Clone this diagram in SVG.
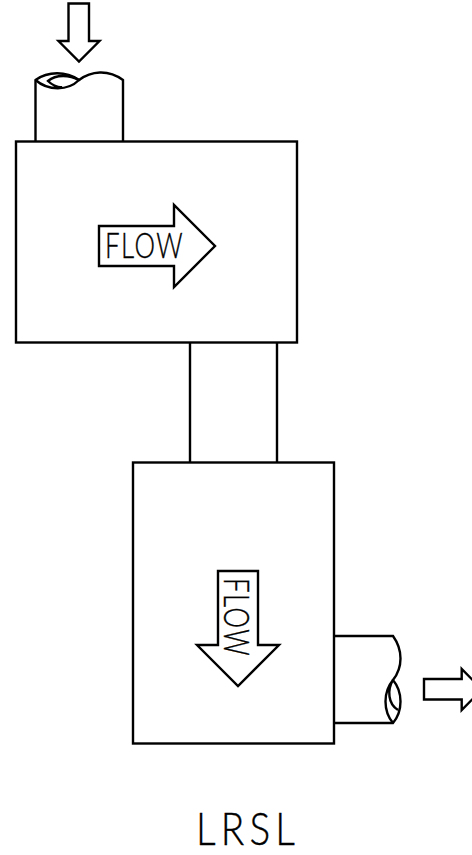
<svg xmlns="http://www.w3.org/2000/svg" width="472" height="855" viewBox="0 0 472 855">
<style>
.s{fill:none;stroke:#000;stroke-width:2.400;stroke-linejoin:miter}
.t{font-family:Lato,"Liberation Sans",Arial,sans-serif;font-weight:300;fill:#000;stroke:#000;stroke-width:.4}
</style>
<rect width="472" height="855" fill="#fff"/>
<g id="inlet-arrow"><path class="s" d="M68.500 3.500H89V41H99.500L79 61.500 58.500 41H68.500Z"/></g>
<g id="inlet-pipe"><path class="s" d="M35.500 141V80C48 71 66 71 79 80 91 71 108 69 123 80V141"/><path class="s" d="M35.500 80C48 91 68 91 79 80 70 75 56 74 48 81 52 85 56 87 62 87.500"/></g>
<g id="upper-box"><rect class="s" x="16" y="141.500" width="281" height="201"/></g>
<g id="upper-flow"><path class="s" d="M99 226H174V205L215 246 174 287V266H99Z"/><text class="t" font-size="36" letter-spacing="2" transform="translate(105 258) scale(.72 1)">FLOW</text></g>
<g id="connectors"><path class="s" d="M190 342.500V462M277 342.500V462"/></g>
<g id="lower-box"><rect class="s" x="133" y="462.500" width="201" height="281"/></g>
<g id="lower-flow"><path class="s" d="M218 571H258V645H279L238 686 197 645H218Z"/><text class="t" font-size="36" letter-spacing="2" transform="translate(224 578) rotate(90) scale(.72 1)">FLOW</text></g>
<g id="outlet-pipe"><path class="s" d="M334 636H393C403 650 403 667 393 680 403 692 403 711 393 723H334"/><path class="s" d="M393 680C383 692 383 711 393 723M393 680C387 690 388 704 398 710"/></g>
<g id="outlet-arrow"><path class="s" d="M424 679H461.700V669L482 689.500 461.700 710V699.500H424Z"/></g>
<g id="label"><text class="t" font-size="45" letter-spacing="6" transform="translate(196 845) scale(.86 1)">LRSL</text></g>
</svg>
